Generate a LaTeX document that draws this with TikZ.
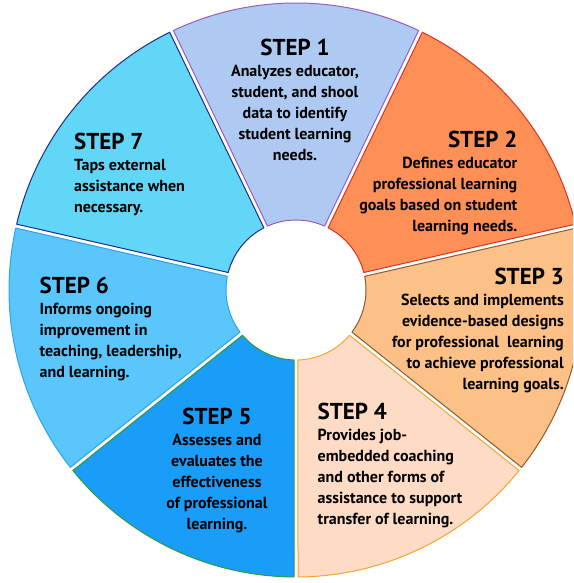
\documentclass[tikz,border=0pt]{standalone}
\usepackage{fontspec}
\setmainfont{PT Sans}
\usepackage{tikz}

\definecolor{oneFill}{HTML}{AEC9F2}
\definecolor{oneLine}{HTML}{9A5CBE}
\definecolor{twoFill}{HTML}{FE8F57}
\definecolor{twoLine}{HTML}{DD3220}
\definecolor{threeFill}{HTML}{FDC188}
\definecolor{threeLine}{HTML}{8A5A2E}
\definecolor{fourFill}{HTML}{FDDBC4}
\definecolor{fourLine}{HTML}{F5A632}
\definecolor{fiveFill}{HTML}{1A9CF9}
\definecolor{fiveLine}{HTML}{2E9A3C}
\definecolor{sixFill}{HTML}{5AC6FB}
\definecolor{sixLine}{HTML}{2CA4E6}
\definecolor{sevenFill}{HTML}{62D6F7}
\definecolor{sevenLine}{HTML}{1C2D8C}

\begin{document}
\begin{tikzpicture}[x=1pt, y=1pt,
    sector/.style={line width=1pt, line join=round},
    stepnode/.style={inner sep=0pt, font=\fontsize{16}{21}\selectfont\bfseries}]
    \useasboundingbox (0,0) rectangle (573,583);
    \clip (0,0) rectangle (573,583);
    \begin{scope}[shift={(296,293)}]
      % seven equal slices, clockwise from the top
      \draw[sector, fill=oneFill, draw=oneLine] (65.9:70) -- (64.7:287)
        arc[start angle=64.7, end angle=115.3, radius=287] -- (114.1:70)
        arc[start angle=114.1, end angle=65.9, radius=70] -- cycle;
      \draw[sector, fill=twoFill, draw=twoLine] (14.46:70) -- (13.26:287)
        arc[start angle=13.26, end angle=63.89, radius=287] -- (62.69:70)
        arc[start angle=62.69, end angle=14.46, radius=70] -- cycle;
      \draw[sector, fill=threeFill, draw=threeLine] (-36.97:70) -- (-38.17:287)
        arc[start angle=-38.17, end angle=12.46, radius=287] -- (11.26:70)
        arc[start angle=11.26, end angle=-36.97, radius=70] -- cycle;
      \draw[sector, fill=fourFill, draw=fourLine] (-88.4:70) -- (-89.6:287)
        arc[start angle=-89.6, end angle=-38.97, radius=287] -- (-40.17:70)
        arc[start angle=-40.17, end angle=-88.4, radius=70] -- cycle;
      \draw[sector, fill=fiveFill, draw=fiveLine] (-139.83:70) -- (-141.03:287)
        arc[start angle=-141.03, end angle=-90.4, radius=287] -- (-91.6:70)
        arc[start angle=-91.6, end angle=-139.83, radius=70] -- cycle;
      \draw[sector, fill=sixFill, draw=sixLine] (168.74:70) -- (167.54:287)
        arc[start angle=167.54, end angle=218.17, radius=287] -- (216.97:70)
        arc[start angle=216.97, end angle=168.74, radius=70] -- cycle;
      \draw[sector, fill=sevenFill, draw=sevenLine] (117.31:70) -- (116.11:287)
        arc[start angle=116.11, end angle=166.74, radius=287] -- (165.54:70)
        arc[start angle=165.54, end angle=117.31, radius=70] -- cycle;
    \end{scope}

    \node[stepnode, anchor=north, align=center] (step1) at (295,544)
      {{\fontsize{23}{21}\selectfont STEP 1}\\Analyzes educator,\\student, and shool\\data to identify\\student learning\\needs.};
    \node[stepnode, anchor=north east, align=right] (step2) at (517.5,452)
      {{\fontsize{23}{21}\selectfont STEP 2}\\Defines educator\\professional learning\\goals based on student\\learning needs.};
    \node[stepnode, anchor=north east, align=right] (step3) at (564,315.5)
      {{\fontsize{23}{21}\selectfont STEP 3}\\Selects and implements\\evidence-based designs\\for professional~ learning\\to achieve professional\\learning goals.};
    \node[stepnode, anchor=north west, align=left] (step4) at (317.5,180.4)
      {{\fontsize{23}{21}\selectfont STEP 4}\\Provides job-\\embedded coaching\\and other forms of\\assistance to support\\transfer of learning.};
    \node[stepnode, anchor=north, align=center] (step5) at (217,175)
      {{\fontsize{23}{21}\selectfont STEP 5}\\Assesses and\\evaluates the\\effectiveness\\of professional\\learning.};
    \node[stepnode, anchor=north west, align=left] (step6) at (39.4,306.3)
      {{\fontsize{23}{21}\selectfont STEP 6}\\Informs ongoing\\improvement in\\teaching, leadership,\\and learning.};
    \node[stepnode, anchor=north west, align=left] (step7) at (74,450.5)
      {{\fontsize{23}{21}\selectfont STEP 7}\\Taps external\\assistance when\\necessary.};
  \end{tikzpicture}
\end{document}
